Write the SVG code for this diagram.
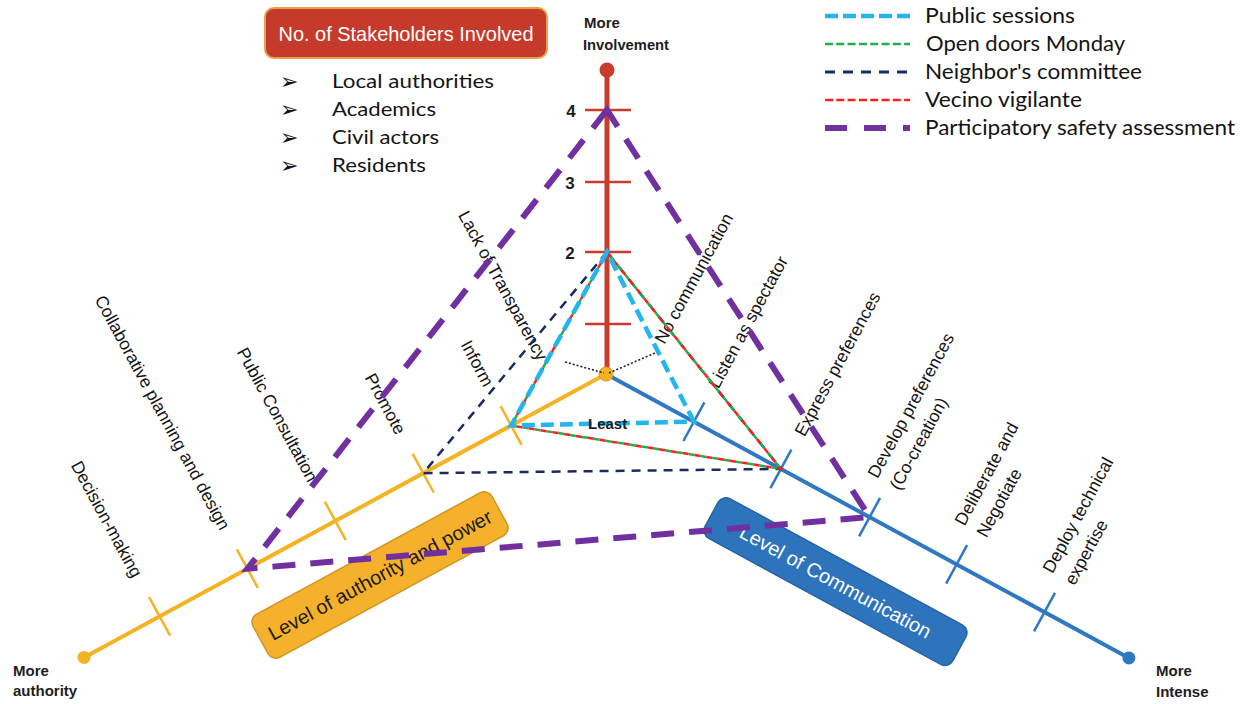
<svg xmlns="http://www.w3.org/2000/svg" width="1244" height="704" viewBox="0 0 1244 704">
<style>
.lbl{font-family:"Liberation Sans",Arial,sans-serif;font-size:17.5px;fill:#141414}
.bold{font-family:"Liberation Sans",Arial,sans-serif;font-weight:bold;font-size:15px;fill:#1e1e1e}
.num{font-family:"Liberation Sans",Arial,sans-serif;font-weight:bold;font-size:17px;fill:#1e1e1e;text-anchor:middle}
.leg{font-family:Lato,"Noto Sans",sans-serif;font-size:21px;fill:#141414}
.bul{font-family:Lato,"Noto Sans",sans-serif;font-size:20px;fill:#141414}
.arr{font-family:"DejaVu Sans",sans-serif;font-size:22px;fill:#141414}
.ax-o{stroke:#F5B324;stroke-width:4;fill:none;stroke-linecap:round}
.ax-b{stroke:#2F78C2;stroke-width:4;fill:none;stroke-linecap:round}
.ax-r{stroke:#C93B2B;stroke-width:5;fill:none}
.tk-o{stroke:#F5B324;stroke-width:2.5}
.tk-b{stroke:#2F78C2;stroke-width:2.5}
.tk-r{stroke:#C93B2B;stroke-width:2.5}
.ps{fill:none;stroke:#22B5EE;stroke-width:4.5;stroke-dasharray:13 6}
.od{fill:none;stroke:#1FAF4C;stroke-width:2.5;stroke-dasharray:6 6;stroke-dashoffset:6}
.nc{fill:none;stroke:#1B2B62;stroke-width:2.5;stroke-dasharray:9 7}
.vv{fill:none;stroke:#FF1E1E;stroke-width:2.5;stroke-dasharray:6 6}
.psa{fill:none;stroke:#7030A0;stroke-width:6;stroke-dasharray:23 15}
.dot{fill:none;stroke:#222;stroke-width:1.6;stroke-dasharray:2 2}
</style>

<!-- Axes -->
<g id="axis-involvement">
  <line class="ax-r" x1="607" y1="70" x2="607" y2="372"/>
  <circle cx="607" cy="70" r="7.5" fill="#C93B2B"/>
  <line class="tk-r" x1="585" y1="110" x2="631" y2="110"/>
  <line class="tk-r" x1="585" y1="182" x2="631" y2="182"/>
  <line class="tk-r" x1="585" y1="252" x2="631" y2="252"/>
  <line class="tk-r" x1="585" y1="324" x2="631" y2="324"/>
  <text class="num" x="571" y="117">4</text>
  <text class="num" x="570" y="189">3</text>
  <text class="num" x="570" y="259">2</text>
</g>
<g id="axis-authority">
  <line class="ax-o" x1="606" y1="374" x2="84" y2="657.4"/>
  <circle cx="84" cy="657.4" r="6.5" fill="#F5B324"/>
  <line class="tk-o" x1="500.6" y1="406.2" x2="521.6" y2="444.8"/>
  <line class="tk-o" x1="412.7" y1="453.9" x2="433.7" y2="492.5"/>
  <line class="tk-o" x1="324.8" y1="501.6" x2="345.8" y2="540.2"/>
  <line class="tk-o" x1="236.9" y1="549.4" x2="257.9" y2="588"/>
  <line class="tk-o" x1="149.1" y1="597.1" x2="170.1" y2="635.7"/>
</g>
<g id="axis-communication">
  <line class="ax-b" x1="606" y1="374" x2="1128.9" y2="657.9"/>
  <circle cx="1128.9" cy="657.9" r="6.5" fill="#2F78C2"/>
  <line class="tk-b" x1="683.4" y1="441" x2="704.4" y2="402.4"/>
  <line class="tk-b" x1="770.4" y1="488.2" x2="791.4" y2="449.6"/>
  <line class="tk-b" x1="859.1" y1="536.4" x2="880.1" y2="497.8"/>
  <line class="tk-b" x1="946.1" y1="583.7" x2="967.1" y2="545.1"/>
  <line class="tk-b" x1="1034" y1="631.4" x2="1055" y2="592.8"/>
</g>
<g id="center">
  <circle cx="606" cy="374" r="7" fill="#F5B324" stroke="#E09A1A" stroke-width="1"/>
</g>

<!-- Axis end labels -->
<g id="lbl-more-involvement">
  <text class="bold" x="584" y="28">More</text>
  <text class="bold" x="583" y="50" textLength="86" lengthAdjust="spacingAndGlyphs">Involvement</text>
</g>
<g id="lbl-more-authority">
  <text class="bold" x="13" y="676">More</text>
  <text class="bold" x="13" y="696">authority</text>
</g>
<g id="lbl-more-intense">
  <text class="bold" x="1156" y="676">More</text>
  <text class="bold" x="1156" y="697">Intense</text>
</g>

<!-- Stakeholders box and list -->
<g id="box-stakeholders">
  <rect x="265" y="8" width="282" height="50" rx="9" fill="#C53A2A" stroke="#E9A04A" stroke-width="2"/>
  <text x="406" y="41" text-anchor="middle" font-family="'Liberation Sans',Arial,sans-serif" font-size="21" fill="#ffffff" textLength="255" lengthAdjust="spacingAndGlyphs">No. of Stakeholders Involved</text>
</g>
<g id="stakeholder-list">
  <text class="arr" x="280" y="89">➢</text>
  <text class="arr" x="280" y="117">➢</text>
  <text class="arr" x="280" y="145">➢</text>
  <text class="arr" x="280" y="173">➢</text>
  <text class="bul" x="332" y="88" textLength="162" lengthAdjust="spacingAndGlyphs">Local authorities</text>
  <text class="bul" x="332" y="116" textLength="104" lengthAdjust="spacingAndGlyphs">Academics</text>
  <text class="bul" x="332" y="144" textLength="107" lengthAdjust="spacingAndGlyphs">Civil actors</text>
  <text class="bul" x="332" y="172" textLength="94" lengthAdjust="spacingAndGlyphs">Residents</text>
</g>

<!-- Legend -->
<g id="legend">
  <line x1="825" y1="16" x2="910" y2="16" stroke="#22B5EE" stroke-width="4.5" stroke-dasharray="13 5"/>
  <line x1="825" y1="44" x2="910" y2="44" stroke="#1FAF4C" stroke-width="2.5" stroke-dasharray="8 3.3"/>
  <line x1="825" y1="72" x2="910" y2="72" stroke="#1B2B62" stroke-width="3" stroke-dasharray="10 8"/>
  <line x1="825" y1="100" x2="910" y2="100" stroke="#FF1E1E" stroke-width="2.5" stroke-dasharray="8 3.3"/>
  <line x1="825" y1="128" x2="910" y2="128" stroke="#7030A0" stroke-width="6" stroke-dasharray="22 17"/>
  <text class="leg" x="925" y="23" textLength="150" lengthAdjust="spacingAndGlyphs">Public sessions</text>
  <text class="leg" x="926" y="51" textLength="199" lengthAdjust="spacingAndGlyphs">Open doors Monday</text>
  <text class="leg" x="925" y="79" textLength="217" lengthAdjust="spacingAndGlyphs">Neighbor's committee</text>
  <text class="leg" x="925" y="107" textLength="157" lengthAdjust="spacingAndGlyphs">Vecino vigilante</text>
  <text class="leg" x="925" y="135" textLength="310" lengthAdjust="spacingAndGlyphs">Participatory safety assessment</text>
</g>

<!-- Category boxes -->
<g id="box-authority" transform="translate(380,575) rotate(-28.5)">
  <rect x="-136" y="-24.5" width="272" height="49" rx="9" fill="#F6B12C" stroke="#CF9522" stroke-width="1.5"/>
  <text x="0" y="0" dy="0.35em" text-anchor="middle" font-family="'Liberation Sans',Arial,sans-serif" font-size="20" fill="#1a1a1a">Level of authority and power</text>
</g>
<g id="box-communication" transform="translate(835.5,581.6) rotate(28.5)">
  <rect x="-141" y="-22.5" width="282" height="45" rx="9" fill="#2E74BC" stroke="#2463A5" stroke-width="1.5"/>
  <text x="0" y="0" dy="0.35em" text-anchor="middle" font-family="'Liberation Sans',Arial,sans-serif" font-size="20" fill="#ffffff">Level of Communication</text>
</g>

<!-- Authority axis labels -->
<g id="lbl-lack-transparency"><text class="lbl" text-anchor="end" dy="0.35em" transform="translate(543,359) rotate(61.5)">Lack of Transparency</text></g>
<g id="lbl-inform"><text class="lbl" text-anchor="end" dy="0.35em" transform="translate(489.2,385.1) rotate(61.5)">Inform</text></g>
<g id="lbl-promote"><text class="lbl" text-anchor="end" dy="0.35em" transform="translate(401.3,432.8) rotate(61.5)">Promote</text></g>
<g id="lbl-public-consultation"><text class="lbl" text-anchor="end" dy="0.35em" transform="translate(313.4,480.5) rotate(61.5)">Public Consultation</text></g>
<g id="lbl-collaborative"><text class="lbl" text-anchor="end" dy="0.35em" transform="translate(225.5,528.3) rotate(61.5)">Collaborative planning and design</text></g>
<g id="lbl-decision"><text class="lbl" text-anchor="end" dy="0.35em" transform="translate(137.7,576) rotate(61.5)">Decision-making</text></g>

<!-- Communication axis labels -->
<g id="lbl-no-communication"><text class="lbl" dy="0.35em" transform="translate(659,342) rotate(-61.5)">No communication</text></g>
<g id="lbl-listen"><text class="lbl" dy="0.35em" transform="translate(713,386.5) rotate(-61.5)">Listen as spectator</text></g>
<g id="lbl-express"><text class="lbl" dy="0.35em" transform="translate(799,434.5) rotate(-61.5)">Express preferences</text></g>
<g id="lbl-develop"><text class="lbl" transform="translate(869.6,517.1) rotate(-61.5)"><tspan x="37" y="-11">Develop preferences</tspan><tspan x="37" y="14">(Co-creation)</tspan></text></g>
<g id="lbl-deliberate"><text class="lbl" transform="translate(956.6,564.4) rotate(-61.5)"><tspan x="37" y="-11">Deliberate and</tspan><tspan x="37" y="14">Negotiate</tspan></text></g>
<g id="lbl-deploy"><text class="lbl" transform="translate(1044.5,612.1) rotate(-61.5)"><tspan x="37" y="-11">Deploy technical</tspan><tspan x="37" y="14">expertise</tspan></text></g>

<!-- Connectors -->
<g id="connectors">
  <path class="dot" d="M565,362 L604,373"/>
  <path class="dot" d="M609,373 L655,353"/>
  <path class="nc" d="M607,252 L423.2,473.2 L780.9,468.9 Z"/>
  <path class="od" d="M607,252 L511.1,425.5 L780.9,468.9 Z"/>
  <path class="vv" d="M607,252 L511.1,425.5 L780.9,468.9 Z"/>
  <path class="ps" d="M607,252 L511.1,425.5 L693.9,421.7 Z"/>
  <path class="psa" d="M607,110 L247.4,568.7 L869.6,517.1 Z"/>
</g>

<g id="lbl-least">
  <text class="bold" x="588" y="429">Least</text>
</g>
</svg>
